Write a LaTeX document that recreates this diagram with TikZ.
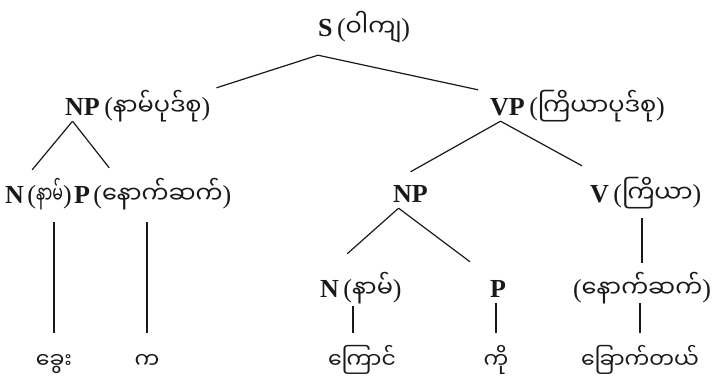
\documentclass[tikz,border=0pt]{standalone}
\usepackage{fontspec}
\usepackage{graphicx}
\setmainfont{Liberation Serif}
\newfontfamily\myafont[Script=Myanmar]{Noto Sans Myanmar UI}
\newcommand{\mya}[1]{{\myafont\fontsize{24pt}{28pt}\selectfont #1}}
\newcommand{\myaword}[1]{{\myafont\fontsize{22pt}{26pt}\selectfont #1}}
\usetikzlibrary{positioning}
\definecolor{SynInk}{RGB}{25,25,25}
\tikzset{
  syn/cat/.style={
    inner sep=0pt,
    anchor=base west,
    text height=19pt,
    text depth=6pt,
    text=SynInk,
    font=\fontsize{26pt}{30pt}\selectfont\bfseries
  },
  syn/gloss/.style={
    inner sep=0pt,
    text height=19pt,
    text depth=6pt,
    text=SynInk,
    font=\fontsize{26pt}{30pt}\selectfont
  },
  syn/leaf/.style={inner sep=0pt, anchor=base, text height=31pt, text depth=6pt, text=SynInk},
  syn/edge/.style={draw=SynInk, line width=1.2pt},
  syn/stem/.style={syn/edge, shorten <=4pt}
}

\begin{document}
\begin{tikzpicture}[x=1pt,y=-1pt]
  \fill[white] (0,0) rectangle (722,378);
  % labels
  \node[syn/cat] (s) at (318,36) {S};
  \node[syn/gloss,base right=4pt of s] (s-gl) {(\mya{ဝါကျ})};
  \node[syn/cat] (np1) at (65,115) {NP};
  \node[syn/gloss,base right=4pt of np1] (np1-gl) {(\mya{နာမ်ပုဒ်စု})};
  \node[syn/cat] (vp) at (490,115) {VP};
  \node[syn/gloss,base right=4pt of vp] (vp-gl) {(\mya{ကြိယာပုဒ်စု})};
  \node[syn/cat] (n1) at (5,203) {N};
  \node[syn/gloss,base right=3pt of n1] (n1-gl) {(\scalebox{0.66}[1]{\mya{နာမ်}})};
  \node[syn/cat,base right=2pt of n1-gl] (p1) {P};
  \node[syn/gloss,base right=3pt of p1] (p1-gl) {(\mya{နောက်ဆက်})};
  \node[syn/cat] (np2) at (393,202) {NP};
  \node[syn/cat] (v) at (590,202) {V};
  \node[syn/gloss,base right=4pt of v] (v-gl) {(\mya{ကြိယာ})};
  \node[syn/cat] (n2) at (320,297) {N};
  \node[syn/gloss,base right=4pt of n2] (n2-gl) {(\mya{နာမ်})};
  \node[syn/cat] (p2) at (490,297) {P};
  \node[syn/gloss,anchor=base] (sfx) at (642,297) {(\mya{နောက်ဆက်})};
  % words
  \foreach \name/\x/\word in {w1/54/ခွေး,w2/147/က,w3/362/ကြောင်,w4/496/ကို,w5/640/ခြောက်တယ်}
    {\node[syn/leaf] (\name) at (\x,368) {\myaword{\word}};}
  % branches
  \draw[syn/edge] ([yshift=-13pt]s.south west) -- ([shift={(6pt,8pt)}]np1-gl.north east);
  \draw[syn/edge] ([yshift=-13pt]s.south west) -- ([shift={(-12pt,6pt)}]vp.north west);
  \draw[syn/edge] ([xshift=-10pt]np1.south) -- ([shift={(8pt,14pt)}]n1.north east);
  \draw[syn/edge] ([xshift=-10pt]np1.south) -- ([shift={(16pt,16pt)}]p1-gl.north west);
  \draw[syn/edge] ([xshift=-7pt]vp.south) -- ([yshift=11pt]np2.north);
  \draw[syn/edge] ([xshift=-7pt]vp.south) -- ([shift={(-8pt,17pt)}]v.north west);
  \draw[syn/edge] ([xshift=-12pt]np2.south) -- ([shift={(4pt,24pt)}]n2-gl.north west);
  \draw[syn/edge] ([xshift=-12pt]np2.south) -- ([shift={(-20pt,16pt)}]p2.north west);
  \draw[syn/stem] (w1) -- ([yshift=-13pt]w1 |- n1-gl.south);
  \draw[syn/stem] (w2) -- ([yshift=-13pt]w2 |- p1-gl.south);
  \draw[syn/stem] ([xshift=-9pt]w3.north) -- ([xshift=-9pt,yshift=-3pt]w3.north |- n2-gl.south);
  \draw[syn/stem] (w4) -- (w4 |- p2.south);
  \draw[syn/stem] (w5) -- (w5 |- sfx.south);
  \draw[syn/edge] ([yshift=15pt]sfx.north) -- ([yshift=-10pt]sfx.north |- v-gl.south);
\end{tikzpicture}
\end{document}
